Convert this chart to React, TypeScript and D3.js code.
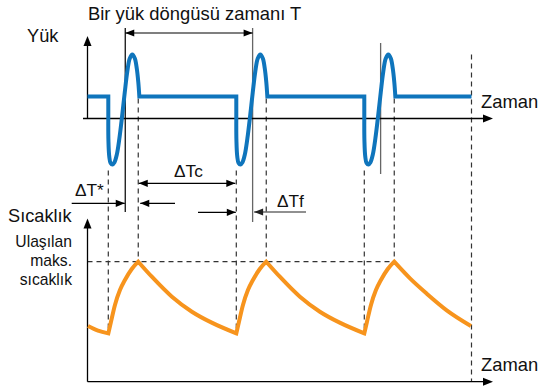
import React from 'react';
import * as d3 from 'd3';

const W = 539;
const H = 387;

// Load pulse: time relative to the start of the drop, load in arbitrary units
const pulseT = [0, 0.01, 0.075, 0.175, 0.325, 0.475, 0.665, 0.865, 1.075, 1.285, 1.485, 1.675, 1.875, 2.075, 2.225, 2.345, 2.425];
const pulseLoad = [0, -1.0, -1.73, -2.02, -2.09, -2.0, -1.64, -0.91, 0.09, 1.18, 2.14, 2.73, 2.91, 2.73, 2.27, 1.64, 1.0];
const baseLoad = 1.0;

// Start of each load cycle (drop of the load)
const cycleStarts = [1.625, 11.625, 21.625];
// Reference lines of the cycle period T
const markerTimes = [2.95, 12.9, 22.9];
const endTime = 30;
const peakRel = 2.34;

// Temperature response (relative time, temperature)
const tempHead: [number, number][] = [[0.04, 34.8], [0.82, 31.9], [1.625, 30.2]];
const riseShape: [number, number][] = [[0, 30.2], [0.21, 37.5], [0.52, 48.0], [0.91, 57.3], [1.3, 63.6], [1.82, 70.3], [2.34, 75.0]];
const decayShape: [number, number][] = [[2.34, 75.0], [3.4, 65.6], [4.97, 53.1], [6.53, 43.75], [8.08, 36.9], [10.0, 30.2]];
const tailDecay: [number, number][] = [[2.34, 75.0], [3.59, 64.4], [4.88, 55.0], [6.44, 44.6], [8.33, 34.8]];
const tempMax = 75.0;

const FONT = 'Liberation Sans, Arial, Helvetica, sans-serif';
const BLUE = '#0f75bc';
const ORANGE = '#f7941d';

const x = d3.scaleLinear().domain([0, 31.68]).range([87.5, 493]);
const yLoad = d3.scaleLinear().domain([0, 1]).range([118.5, 96.5]);
const yTemp = d3.scaleLinear().domain([0, 100]).range([381.7, 221.7]);

function Head({ tx, ty, dir, len = 9, hw = 3.6, fill = '#000' }: { tx: number; ty: number; dir: 'l' | 'r' | 'u'; len?: number; hw?: number; fill?: string }) {
  let pts: number[][];
  if (dir === 'r') pts = [[tx, ty], [tx - len, ty - hw], [tx - len, ty + hw]];
  else if (dir === 'l') pts = [[tx, ty], [tx + len, ty - hw], [tx + len, ty + hw]];
  else pts = [[tx, ty], [tx - hw, ty + len], [tx + hw, ty + len]];
  return <polygon points={pts.map((p) => p.join(',')).join(' ')} fill={fill} />;
}

function HArrow({ x1, x2, y, both = false, color = '#000' }: { x1: number; x2: number; y: number; both?: boolean; color?: string }) {
  // arrow drawn from x1 to x2, head at x2 (and x1 when both)
  const dir = x2 > x1 ? 'r' : 'l';
  const back = dir === 'r' ? 'l' : 'r';
  return (
    <g>
      <line x1={x1} x2={x2} y1={y} y2={y} stroke={color} strokeWidth={1.2} />
      <Head tx={x2} ty={y} dir={dir} fill={color} />
      {both && <Head tx={x1} ty={y} dir={back} fill={color} />}
    </g>
  );
}

export default function App() {
  const loadLine = d3
    .line<[number, number]>()
    .x((d) => x(d[0]))
    .y((d) => yLoad(d[1]))
    .curve(d3.curveCatmullRom.alpha(0.5));

  let loadPath = `M${x(0)},${yLoad(baseLoad)}`;
  cycleStarts.forEach((c) => {
    loadPath += `L${x(c)},${yLoad(baseLoad)}`;
    const pts = pulseT.map((t, i) => [c + t, pulseLoad[i]] as [number, number]);
    loadPath += (loadLine(pts) || '').replace(/^M/, 'L');
  });
  loadPath += `L${x(endTime)},${yLoad(baseLoad)}`;

  const tempLine = d3
    .line<[number, number]>()
    .x((d) => x(d[0]))
    .y((d) => yTemp(d[1]))
    .curve(d3.curveMonotoneX);

  let tempPath = tempLine(tempHead) || '';
  cycleStarts.forEach((c, i) => {
    const shift = (arr: [number, number][]) => arr.map(([t, v]) => [c + t, v] as [number, number]);
    tempPath += (tempLine(shift(riseShape)) || '').replace(/^M/, 'L');
    const decay = i < cycleStarts.length - 1 ? decayShape : tailDecay;
    tempPath += (tempLine(shift(decay)) || '').replace(/^M/, 'L');
  });

  const troughY = yLoad(d3.min(pulseLoad) as number) + 6;
  const minTemp = riseShape[0][1];
  const dash = { stroke: '#333', strokeWidth: 1.2, strokeDasharray: '5,4' };
  const axis = { stroke: '#000', strokeWidth: 1.3 };
  const markerExt = [
    { top: 28, bottom: 212, color: '#111' },
    { top: 28, bottom: 222, color: '#666' },
    { top: 43, bottom: 174, color: '#666' },
  ];

  const ax0 = x(0);
  const axEnd = x.range()[1];

  return (
    <svg width={W} height={H} style={{ display: 'block', position: 'absolute', left: 0, top: 0 }} fontFamily={FONT}>
      <rect width={W} height={H} fill="#fff" />

      {/* dashed guide lines */}
      {cycleStarts.map((c) => (
        <line key={'d' + c} x1={x(c)} x2={x(c)} y1={troughY} y2={yTemp(minTemp)} {...dash} />
      ))}
      {cycleStarts.map((c) => (
        <line key={'p' + c} x1={x(c + peakRel)} x2={x(c + peakRel)} y1={yLoad(baseLoad) + 2} y2={yTemp(tempMax)} {...dash} />
      ))}
      <line x1={x(endTime)} x2={x(endTime)} y1={yLoad(2.91)} y2={yTemp(0)} {...dash} />
      <line x1={ax0} x2={x(cycleStarts[2] + peakRel)} y1={yTemp(tempMax)} y2={yTemp(tempMax)} {...dash} />

      {/* period marker lines */}
      {markerTimes.map((t, i) => (
        <line key={'m' + t} x1={x(t)} x2={x(t)} y1={markerExt[i].top} y2={markerExt[i].bottom} stroke={markerExt[i].color} strokeWidth={1.3} />
      ))}

      {/* load axes */}
      <line x1={ax0} x2={ax0} y1={yLoad(0)} y2={44} {...axis} />
      <Head tx={ax0} ty={36} dir="u" len={10} hw={4} />
      <line x1={ax0 - 4.5} x2={axEnd - 8} y1={yLoad(0)} y2={yLoad(0)} {...axis} />
      <Head tx={axEnd} ty={yLoad(0)} dir="r" len={10} hw={4} />

      {/* temperature axes */}
      <line x1={ax0} x2={ax0} y1={yTemp(0)} y2={227} {...axis} />
      <Head tx={ax0} ty={218.5} dir="u" len={10} hw={4} />
      <line x1={ax0} x2={axEnd - 8} y1={yTemp(0)} y2={yTemp(0)} {...axis} />
      <Head tx={axEnd} ty={yTemp(0)} dir="r" len={10} hw={4} />

      {/* curves */}
      <path d={loadPath} fill="none" stroke={BLUE} strokeWidth={4} strokeLinejoin="miter" strokeLinecap="butt" />
      <path d={tempPath} fill="none" stroke={ORANGE} strokeWidth={4} strokeLinejoin="miter" strokeMiterlimit={6} />

      {/* period T */}
      <HArrow x1={x(markerTimes[0])} x2={x(markerTimes[1])} y={33} both />
      <text x={88} y={20} fontSize={18.4} fill="#111">Bir yük döngüsü zamanı T</text>

      {/* interval arrows */}
      <HArrow x1={x(cycleStarts[0] + peakRel) + 0.5} x2={x(cycleStarts[1]) - 1} y={183.3} both />
      <text x={188.5} y={177} fontSize={17.3} textAnchor="middle" fill="#111">ΔTc</text>

      <HArrow x1={71.7} x2={x(markerTimes[0]) - 0.5} y={203.3} />
      <text x={75} y={196} fontSize={17.3} fill="#111">ΔT*</text>
      <HArrow x1={175} x2={x(cycleStarts[0] + peakRel) + 2} y={203.3} />

      <HArrow x1={198} x2={x(cycleStarts[1]) - 0.5} y={212.3} />
      <HArrow x1={306} x2={x(markerTimes[1]) + 1.5} y={212} color="#222" />
      <text x={277} y={207} fontSize={17.3} fill="#111">ΔTf</text>

      {/* axis labels */}
      <text x={27} y={42} fontSize={18.2} fill="#111">Yük</text>
      <text x={481} y={107.5} fontSize={18.4} fill="#111">Zaman</text>
      <text x={8} y={221.7} fontSize={18.2} fill="#111">Sıcaklık</text>
      <text x={72} y={247} fontSize={15.7} textAnchor="end" fill="#111">Ulaşılan</text>
      <text x={72} y={265.5} fontSize={15.7} textAnchor="end" fill="#111">maks.</text>
      <text x={72} y={285} fontSize={15.7} textAnchor="end" fill="#111">sıcaklık</text>
      <text x={481} y={371} fontSize={18.4} fill="#111">Zaman</text>
    </svg>
  );
}
